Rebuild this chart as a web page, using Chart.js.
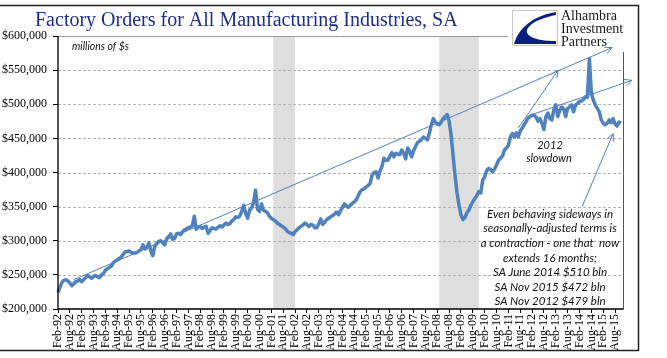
<!DOCTYPE html>
<html lang="en">
  <head>
    <meta charset="UTF-8" />
    <title>Factory Orders for All Manufacturing Industries, SA</title>
    <script src="https://cdn.jsdelivr.net/npm/chart.js@4.4.0/dist/chart.umd.min.js"></script>
    <style>
      html, body { margin: 0; padding: 0; background: #fff; }
    </style>
  </head>
  <body>
    <canvas id="myChart" width="667" height="358"></canvas>
    <script>
      // factory orders, total manufacturing, SA ($ bln), Feb-92 .. Nov-15
      const orders = [
        224, 232, 239, 242, 243, 241, 238, 234, 237, 240, 241,
        243, 240, 243, 246, 249, 247, 245, 248, 249, 247, 246, 250,
        252, 257, 259, 261, 263, 268, 270, 272, 274, 276, 280, 284,
        284, 285, 283, 282, 282, 283, 285, 287, 294, 288, 290, 297,
        285, 278, 292, 296, 299, 300, 297, 294, 303, 306, 310, 302,
        303, 310, 311, 309, 313, 316, 317, 319, 320, 322, 336, 317,
        320, 321, 318, 320, 321, 311, 315, 319, 318, 317, 320, 322,
        320, 323, 326, 324, 325, 329, 331, 335, 334, 336, 343, 352,
        340, 333, 345, 348, 356, 374, 346, 343, 354, 345, 343, 341,
        336, 333, 331, 329, 326, 324, 322, 320, 318, 314, 312, 311,
        309, 313, 316, 319, 321, 323, 326, 324, 321, 324, 323, 319,
        319, 325, 332, 324, 327, 331, 333, 335, 337, 339, 342, 338,
        344, 349, 354, 351, 349, 352, 355, 357, 360, 366, 372, 375,
        376, 379, 381, 384, 396, 400, 401, 392, 402, 409, 421, 418,
        418, 424, 429, 423, 428, 427, 426, 433, 428, 420, 436, 431,
        423, 432, 438, 444, 446, 448, 452, 450, 448, 458, 470, 479,
        474, 471, 470, 474, 479, 482, 485, 475, 455, 425, 395, 370,
        352, 338, 331, 334, 341, 345, 352, 357, 362, 366, 372, 370,
        389, 394, 403, 406, 404, 401, 405, 411, 418, 421, 424, 433,
        436, 440, 452, 457, 452, 458, 452, 461, 465, 470, 475, 480,
        482, 484, 484, 481, 475, 479, 472, 463, 482, 487, 479, 477,
        492, 499, 482, 491, 496, 493, 482, 494, 496, 499, 489, 499,
        501, 504, 505, 507, 511, 510, 567, 516, 506, 499, 494, 489,
        477, 472, 470, 472, 477, 473, 479, 471, 468, 474, 472,
      ];

      const tickLabels = [
        "Feb-92", "Aug-92", "Feb-93", "Aug-93", "Feb-94", "Aug-94",
        "Feb-95", "Aug-95", "Feb-96", "Aug-96", "Feb-97", "Aug-97",
        "Feb-98", "Aug-98", "Feb-99", "Aug-99", "Feb-00", "Aug-00",
        "Feb-01", "Aug-01", "Feb-02", "Aug-02", "Feb-03", "Aug-03",
        "Feb-04", "Aug-04", "Feb-05", "Aug-05", "Feb-06", "Aug-06",
        "Feb-07", "Aug-07", "Feb-08", "Aug-08", "Feb-09", "Aug-09",
        "Feb-10", "Aug-10", "Feb-11", "Aug-11", "Feb-12", "Aug-12",
        "Feb-13", "Aug-13", "Feb-14", "Aug-14", "Feb-15", "Aug-15",
      ];

      // shaded recessions (first and last month)
      const recessions = [
        ["Mar-01", "Feb-02"],
        ["Mar-08", "Nov-09"],
      ];

      // arrows drawn on the chart: [month index, $ bln]
      const arrows = [
        { from: [8, 243], to: [280.5, 583] },
        { from: [239, 484], to: [290.6, 535] },
        { from: [233, 465], to: [253.2, 550] },
        { from: [265.3, 350], to: [281, 457] },
      ];

      const noteLines = [
        "Even behaving sideways in",
        "seasonally-adjusted terms is",
        "a contraction - one that  now",
        "extends 16 months;",
        "SA June 2014 $510 bln",
        "SA Nov 2015 $472 bln",
        "SA Nov 2012 $479 bln",
      ];

      const yMin = 200, yMax = 600, yStep = 50;

      const monthAbbr = ["Jan", "Feb", "Mar", "Apr", "May", "Jun",
        "Jul", "Aug", "Sep", "Oct", "Nov", "Dec"];
      const months = [];
      for (let i = 0; i < orders.length; i++) {
        const m = (1 + i) % 12;
        const yr = 1992 + Math.floor((1 + i) / 12);
        months.push(monthAbbr[m] + "-" + String(yr).slice(2));
      }

      const lineBlue = "#4f81bd";
      const navy = "#1f2e88";

      function arrow(ctx, x0, y0, x1, y1) {
        const ang = Math.atan2(y1 - y0, x1 - x0);
        const len = 8, spread = 0.45;
        ctx.beginPath();
        ctx.moveTo(x0, y0);
        ctx.lineTo(x1, y1);
        ctx.moveTo(x1 - len * Math.cos(ang - spread), y1 - len * Math.sin(ang - spread));
        ctx.lineTo(x1, y1);
        ctx.lineTo(x1 - len * Math.cos(ang + spread), y1 - len * Math.sin(ang + spread));
        ctx.stroke();
      }

      const decor = {
        id: "decor",
        beforeDatasetsDraw(chart) {
          const { ctx, chartArea: a, scales } = chart;
          const x = scales.x, y = scales.y;
          const right = a.right + 2;
          ctx.save();
          ctx.fillStyle = "#dedede";
          recessions.forEach(([s, e]) => {
            const x0 = x.getPixelForValue(months.indexOf(s));
            const x1 = x.getPixelForValue(months.indexOf(e));
            ctx.fillRect(x0, a.top, x1 - x0, a.bottom - a.top);
          });
          ctx.strokeStyle = "#b4b4b4";
          ctx.lineWidth = 1;
          ctx.setLineDash([3, 2]);
          y.ticks.forEach((t) => {
            if (t.value <= yMin || t.value >= yMax) return;
            const py = Math.round(y.getPixelForValue(t.value)) + 0.5;
            ctx.beginPath();
            ctx.moveTo(a.left, py);
            ctx.lineTo(right, py);
            ctx.stroke();
          });
          ctx.setLineDash([]);
          // plot area top and right edge
          ctx.strokeStyle = "#9a9a9a";
          ctx.beginPath();
          ctx.moveTo(a.left, Math.round(a.top) + 0.5);
          ctx.lineTo(right, Math.round(a.top) + 0.5);
          ctx.stroke();
          ctx.strokeStyle = "#555";
          ctx.beginPath();
          ctx.moveTo(right + 0.5, a.top);
          ctx.lineTo(right + 0.5, a.bottom);
          ctx.stroke();
          ctx.restore();
        },
        afterDatasetsDraw(chart) {
          const { ctx, chartArea: a } = chart;
          ctx.save();
          ctx.strokeStyle = "#000";
          ctx.lineWidth = 1.3;
          ctx.beginPath();
          ctx.moveTo(a.left, a.top);
          ctx.lineTo(a.left, a.bottom);
          ctx.lineTo(a.right + 2.5, a.bottom);
          ctx.stroke();
          ctx.restore();
        },
        afterDraw(chart) {
          const { ctx, scales } = chart;
          const x = scales.x, y = scales.y;
          ctx.save();

          // title
          ctx.fillStyle = navy;
          ctx.font = '20px "Liberation Serif"';
          ctx.textAlign = "left";
          ctx.textBaseline = "alphabetic";
          ctx.fillText("Factory Orders for All Manufacturing Industries, SA", 35, 26);

          // units
          ctx.fillStyle = "#111";
          ctx.font = "italic 10.5px Lato";
          ctx.textBaseline = "middle";
          ctx.fillText("millions of $s", 72, 47);

          // logo block
          ctx.fillStyle = "#fff";
          ctx.fillRect(508, 7, 129, 45);
          ctx.strokeStyle = "#c8c8c8";
          ctx.lineWidth = 1;
          ctx.strokeRect(512.5, 10.5, 45, 35);
          ctx.fillStyle = "#0b1f80";
          ctx.beginPath();
          ctx.moveTo(556, 12);
          ctx.bezierCurveTo(538, 15, 520, 24, 514, 44);
          ctx.lineTo(556, 44);
          ctx.lineTo(556, 41);
          ctx.bezierCurveTo(534, 41, 523, 35, 528, 28);
          ctx.bezierCurveTo(533, 21, 545, 17, 556, 15);
          ctx.closePath();
          ctx.fill();
          ctx.fillStyle = "#1a1a1a";
          ctx.font = '14px "Liberation Serif"';
          ctx.textBaseline = "alphabetic";
          ctx.fillText("Alhambra", 561, 20);
          ctx.fillText("Investment", 561, 33);
          ctx.fillText("Partners", 561, 46);

          // arrows
          ctx.strokeStyle = lineBlue;
          ctx.lineWidth = 1;
          arrows.forEach((ar) => {
            arrow(ctx,
              x.getPixelForValue(ar.from[0]), y.getPixelForValue(ar.from[1]),
              x.getPixelForValue(ar.to[0]), y.getPixelForValue(ar.to[1]));
          });

          // notes
          ctx.fillStyle = "#111";
          ctx.textAlign = "center";
          ctx.textBaseline = "middle";
          ctx.font = "italic 11px Lato";
          ctx.fillText("2012", 550, 145);
          ctx.fillText("slowdown", 549, 158);
          ctx.font = "italic 11.5px Lato";
          noteLines.forEach((t, i) => ctx.fillText(t, 550, 214 + i * 14.6));

          // outer frame
          ctx.strokeStyle = "#222";
          ctx.lineWidth = 1.5;
          ctx.beginPath();
          ctx.moveTo(0, 5.5);
          ctx.lineTo(638.5, 5.5);
          ctx.lineTo(638.5, 350.5);
          ctx.lineTo(0, 350.5);
          ctx.stroke();
          ctx.restore();
        },
      };

      new Chart(document.getElementById("myChart"), {
        type: "line",
        data: {
          labels: months,
          datasets: [
            {
              label: "Factory orders",
              data: orders,
              borderColor: lineBlue,
              borderWidth: 3.5,
              pointRadius: 0,
              tension: 0,
              fill: false,
              borderJoinStyle: "round",
            },
          ],
        },
        options: {
          responsive: false,
          animation: false,
          layout: { padding: { top: 36, right: 46, left: 0, bottom: 0 } },
          plugins: { legend: { display: false }, tooltip: { enabled: false } },
          scales: {
            x: {
              type: "category",
              afterFit: (s) => { s.height = 49; },
              border: { display: false },
              grid: {
                drawOnChartArea: false,
                drawTicks: true,
                tickLength: 4,
                tickColor: (c) => (c.index % 6 === 0 ? "#000" : "rgba(0,0,0,0)"),
              },
              ticks: {
                autoSkip: false,
                minRotation: 90,
                maxRotation: 90,
                padding: 1,
                color: "#000",
                font: { family: "Liberation Serif", size: 12 },
                callback: (v, i) => (i % 6 === 0 ? tickLabels[i / 6] : ""),
              },
            },
            y: {
              min: yMin,
              max: yMax,
              afterFit: (s) => { s.width = 58; },
              border: { display: false },
              grid: {
                drawOnChartArea: false,
                drawTicks: true,
                tickLength: 5,
                tickColor: "#000",
              },
              ticks: {
                stepSize: yStep,
                padding: 6,
                color: "#000",
                font: { family: "Liberation Serif", size: 12 },
                callback: (v) => "$" + (v * 1000).toLocaleString("en-US"),
              },
            },
          },
        },
        plugins: [decor],
      });
    </script>
  </body>
</html>
